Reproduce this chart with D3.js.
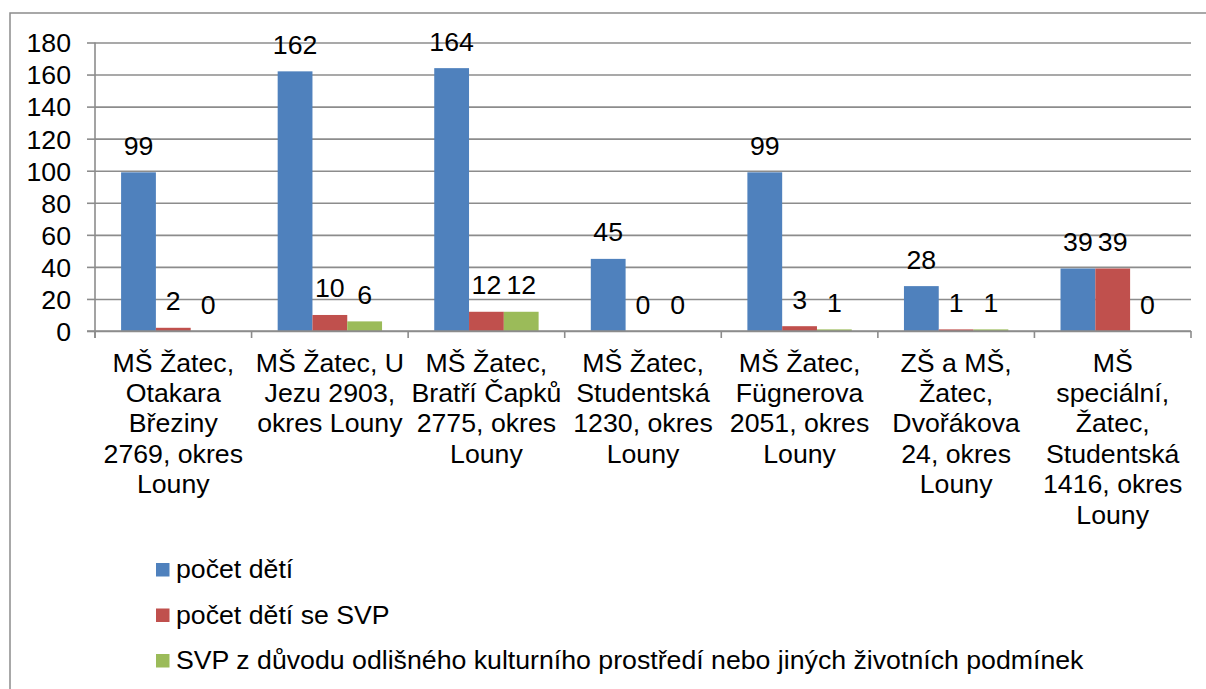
<!DOCTYPE html>
<html>
<head>
<meta charset="utf-8">
<script src="https://cdn.jsdelivr.net/npm/d3@7"></script>
<style>
  body { margin: 0; background: #ffffff; }
  text { font-family: "Liberation Sans", Arial, sans-serif; fill: #000; }
</style>
</head>
<body>
<div id="chart"></div>
<script>
// categories (tick labels, already broken into lines as in the picture)
var categories = [
  ["MŠ Žatec,", "Otakara", "Březiny", "2769, okres", "Louny"],
  ["MŠ Žatec, U", "Jezu 2903,", "okres Louny"],
  ["MŠ Žatec,", "Bratří Čapků", "2775, okres", "Louny"],
  ["MŠ Žatec,", "Studentská", "1230, okres", "Louny"],
  ["MŠ Žatec,", "Fügnerova", "2051, okres", "Louny"],
  ["ZŠ a MŠ,", "Žatec,", "Dvořákova", "24, okres", "Louny"],
  ["MŠ", "speciální,", "Žatec,", "Studentská", "1416, okres", "Louny"]
];

var seriesNames = [
  "počet dětí",
  "počet dětí se SVP",
  "SVP z důvodu odlišného kulturního prostředí nebo jiných životních podmínek"
];

var pocetDeti = [99, 162, 164, 45, 99, 28, 39];
var pocetSvp  = [2, 10, 12, 0, 3, 1, 39];
var svpKultura = [0, 6, 12, 0, 1, 1, 0];

var yTicks = [0, 20, 40, 60, 80, 100, 120, 140, 160, 180];

var colors = ["#4f81bd", "#c0504d", "#9bbb59"];

// layout
var width = 1206, height = 689;
var plot = {left: 95, right: 1191, top: 42.5, bottom: 331};
var fontSize = 26.7;

var svg = d3.select("#chart")
    .append("svg")
    .attr("width", width)
    .attr("height", height);

// outer frame (only top and left edge fall inside the picture)
svg.append("rect")
    .attr("x", 10)
    .attr("y", 13)
    .attr("width", 1300)
    .attr("height", 800)
    .attr("fill", "none")
    .attr("stroke", "#8c8c8c")
    .attr("stroke-width", 1.5);

var series = [pocetDeti, pocetSvp, svpKultura];
var idx = d3.range(categories.length);

var xScale = d3.scaleBand()
    .domain(idx)
    .range([plot.left, plot.right])
    .paddingInner(0)
    .paddingOuter(0);

// bars use a 150% gap width like the original spreadsheet chart
var barW = xScale.bandwidth() / (3 + 1.5);
var xInner = d3.scaleBand()
    .domain([0, 1, 2])
    .range([barW * 0.75, barW * 0.75 + barW * 3]);

var yScale = d3.scaleLinear()
    .domain([0, 180])
    .range([plot.bottom, plot.top]);

// gridlines
svg.append("g")
    .attr("class", "grid")
    .attr("transform", "translate(" + plot.left + ",0)")
    .call(d3.axisLeft(yScale)
        .tickValues(yTicks)
        .tickSize(-(plot.right - plot.left))
        .tickFormat(""))
    .call(g => g.select(".domain").remove())
    .call(g => g.selectAll("line")
        .attr("stroke", "#8c8c8c")
        .attr("stroke-width", 1.6));

// y axis with outside ticks
var yAxisG = svg.append("g")
    .attr("transform", "translate(" + plot.left + ",0)")
    .call(d3.axisLeft(yScale)
        .tickValues(yTicks)
        .tickSize(8)
        .tickPadding(16)
        .tickSizeOuter(0));

yAxisG.select(".domain")
    .attr("stroke", "#8c8c8c")
    .attr("stroke-width", 1.6)
    .attr("d", "M0," + plot.top + "V" + (plot.bottom + 7));

yAxisG.selectAll("line")
    .attr("stroke", "#8c8c8c")
    .attr("stroke-width", 1.6);

yAxisG.selectAll("text")
    .attr("font-family", "Liberation Sans, Arial, sans-serif")
    .attr("font-size", fontSize)
    .attr("fill", "#000")
    .attr("dy", "0.35em");

// bars
idx.forEach(function(i) {
  var g = svg.append("g")
      .attr("transform", "translate(" + xScale(i) + ",0)");

  g.selectAll("rect")
      .data(series.map(s => s[i]))
      .enter()
      .append("rect")
      .attr("x", (d, j) => xInner(j))
      .attr("width", xInner.bandwidth())
      .attr("y", d => yScale(d))
      .attr("height", d => plot.bottom - yScale(d))
      .attr("fill", (d, j) => colors[j]);

  // value labels above each bar
  g.selectAll("text.val")
      .data(series.map(s => s[i]))
      .enter()
      .append("text")
      .attr("class", "val")
      .attr("x", (d, j) => xInner(j) + xInner.bandwidth() / 2)
      .attr("y", d => yScale(d) - 17.5)
      .attr("text-anchor", "middle")
      .attr("font-size", fontSize)
      .text(d => d);
});

// x axis line with ticks at category borders
var xAxisG = svg.append("g");
xAxisG.append("line")
    .attr("x1", plot.left - 8)
    .attr("x2", plot.right)
    .attr("y1", plot.bottom)
    .attr("y2", plot.bottom)
    .attr("stroke", "#8c8c8c")
    .attr("stroke-width", 1.6);

var borders = idx.map(i => xScale(i)).concat([plot.right]);
xAxisG.selectAll("line.tick")
    .data(borders)
    .enter()
    .append("line")
    .attr("class", "tick")
    .attr("x1", d => d)
    .attr("x2", d => d)
    .attr("y1", plot.bottom)
    .attr("y2", plot.bottom + 7)
    .attr("stroke", "#8c8c8c")
    .attr("stroke-width", 1.6);

// category labels
var lineH = 30.4;
idx.forEach(function(i) {
  var t = svg.append("text")
      .attr("text-anchor", "middle")
      .attr("font-size", fontSize)
      .attr("x", xScale(i) + xScale.bandwidth() / 2)
      .attr("y", 371.5);

  t.selectAll("tspan")
      .data(categories[i])
      .enter()
      .append("tspan")
      .attr("x", xScale(i) + xScale.bandwidth() / 2)
      .attr("dy", (d, k) => k === 0 ? 0 : lineH)
      .text(d => d);
});

// legend
var legend = svg.append("g")
    .attr("transform", "translate(156,578)");

var item = legend.selectAll("g")
    .data(seriesNames)
    .enter()
    .append("g")
    .attr("transform", (d, i) => "translate(0," + (i * 45.5) + ")");

item.append("rect")
    .attr("x", 0)
    .attr("y", -15)
    .attr("width", 13.5)
    .attr("height", 13.5)
    .attr("fill", (d, i) => colors[i]);

item.append("text")
    .attr("x", 20)
    .attr("y", 0)
    .attr("font-size", fontSize)
    .text(d => d);
</script>
</body>
</html>
